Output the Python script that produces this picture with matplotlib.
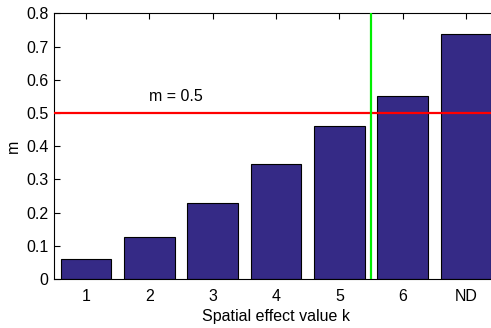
import matplotlib.pyplot as plt

# data
labels = ['1', '2', '3', '4', '5', '6', 'ND']
m_values = [0.061, 0.126, 0.228, 0.346, 0.461, 0.551, 0.739]
threshold = 0.5
split_k = 5.5

plt.rcParams['font.family'] = ['Liberation Sans', 'DejaVu Sans']
plt.rcParams['font.size'] = 11.5

fig = plt.figure(figsize=(4.91, 3.28), dpi=100)
ax = fig.add_axes([0.1106, 0.1494, 1.0136 - 0.1106, 0.9594 - 0.1494])

x = list(range(1, len(labels) + 1))
ax.bar(x, m_values, width=0.8, color='#352a86', edgecolor='black', linewidth=0.8, zorder=2)

ax.axhline(threshold, color='#ff0000', linewidth=1.6, zorder=3)
ax.axvline(split_k, color='#00ee00', linewidth=1.6, zorder=3)
ax.text(2.0, 0.55, 'm = %.1f' % threshold, ha='left', va='center')

ax.set_xlim(0.5, 7.5)
ax.set_ylim(0, 0.8)
ax.set_xticks(x)
ax.set_xticklabels(labels)
ax.set_yticks([0, 0.1, 0.2, 0.3, 0.4, 0.5, 0.6, 0.7, 0.8])
ax.set_yticklabels(['0', '0.1', '0.2', '0.3', '0.4', '0.5', '0.6', '0.7', '0.8'])
ax.tick_params(direction='in', top=True, right=True, length=4, width=0.8)
ax.tick_params(axis='x', pad=7)
ax.tick_params(axis='y', pad=4)

for s in ax.spines.values():
    s.set_linewidth(0.8)

ax.set_xlabel('Spatial effect value k', labelpad=4)
ax.set_ylabel('m', labelpad=4)

plt.savefig('out.png', dpi=100)
